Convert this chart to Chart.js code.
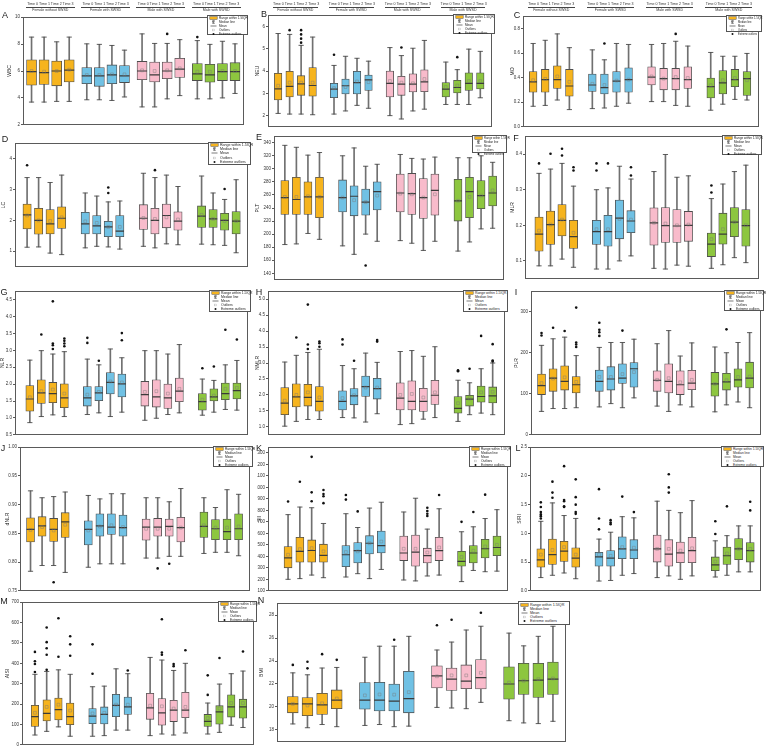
<!DOCTYPE html>
<html>
<head>
<meta charset="utf-8">
<title>Blood markers by group and time</title>
<script src="https://cdn.jsdelivr.net/npm/chart.js@4.4.0/dist/chart.umd.min.js"></script>
<style>
  body { margin: 0; width: 767px; height: 750px; background: #fff; position: relative; overflow: hidden;
         font-family: "Liberation Sans", Arial, sans-serif; color: #222; }
  canvas { position: absolute; }
  .letter { position: absolute; font-size: 9px; line-height: 9px; transform: translate(-50%, -50%); }
  .legend { position: absolute; box-sizing: border-box; border: 0.6px solid #555; background: #fff;
            display: flex; flex-direction: column; justify-content: space-around; padding: 0.4px 1px; }
  .legend div { display: flex; align-items: center; white-space: nowrap; }
  .legend svg { flex: none; margin-right: 1px; }
  .grp { position: absolute; text-align: center; white-space: nowrap; font-size: 3.6px; line-height: 3.9px; color: #333; }
</style>
</head>
<body>
<script>
const groupNames = ["Female without SWSD", "Female with SWSD", "Male with SWSD", "Male with SWSD"];
const timeLabels = ["Time 0", "Time 1", "Time 2", "Time 3"];
const legendLabels = ["Range within 1.5IQR", "Median line", "Mean", "Outliers", "Extreme outliers"];
const groupColors = ["#F6B41E", "#70C1E4", "#F8BBCB", "#8DC63F"];

// every box: [lower whisker, Q1, median, Q3, upper whisker, mean]
// every outlier: [box number 0-15, value]
const wbcBoxes = [
  [3.69, 4.95, 5.95, 6.83, 8.52, 6.0], [3.69, 5.0, 5.88, 6.83, 8.52, 5.95], [3.74, 4.9, 6.0, 6.74, 8.17, 6.0], [3.74, 5.19, 6.07, 6.83, 8.52, 6.1],
  [3.86, 5.05, 5.64, 6.26, 8.02, 5.7], [3.86, 4.86, 5.64, 6.26, 7.98, 5.7], [3.81, 5.05, 5.71, 6.45, 7.9, 5.75], [4.07, 5.14, 5.64, 6.4, 7.55, 5.75],
  [3.33, 5.36, 6.0, 6.71, 8.76, 6.05], [3.33, 5.19, 5.71, 6.67, 8.05, 6.0], [3.93, 5.43, 6.0, 6.67, 8.05, 6.05], [4.17, 5.52, 6.14, 6.95, 8.33, 6.2],
  [3.93, 5.29, 5.79, 6.55, 8.26, 5.95], [3.93, 5.17, 5.71, 6.5, 7.98, 5.95], [4.0, 5.29, 5.95, 6.55, 8.21, 6.0], [4.33, 5.29, 5.95, 6.62, 8.02, 6.0]
];
const wbcOutliers = [[10, 8.76], [12, 8.52]];
const wbcTicks = ["2", "4", "6", "8", "10"];

const neuBoxes = [
  [2.1, 2.7, 3.2, 3.9, 5.68, 3.34], [2.07, 2.84, 3.31, 3.99, 5.64, 3.48], [2.07, 2.91, 3.42, 3.79, 5.15, 3.48], [2.04, 2.87, 3.35, 4.15, 5.52, 3.48],
  [2.07, 2.8, 3.19, 3.45, 4.25, 3.23], [2.21, 2.97, 3.34, 3.64, 4.66, 3.28], [2.46, 2.97, 3.48, 3.99, 4.57, 3.53], [2.33, 3.13, 3.6, 3.82, 4.44, 3.5],
  [2.0, 2.84, 3.45, 4.0, 5.05, 3.55], [1.85, 2.91, 3.41, 3.76, 4.69, 3.48], [2.21, 3.06, 3.41, 3.87, 5.02, 3.45], [2.29, 3.07, 3.51, 4.05, 5.37, 3.64],
  [2.5, 2.84, 3.19, 3.48, 4.4, 3.28], [2.5, 3.02, 3.26, 3.58, 4.06, 3.35], [2.5, 3.13, 3.45, 3.92, 4.98, 3.55], [2.8, 3.2, 3.45, 3.92, 4.88, 3.55]
];
const neuOutliers = [[1, 5.83], [2, 5.83], [2, 5.64], [2, 5.45], [2, 5.27], [4, 4.73], [9, 5.05], [13, 4.62]];
const neuTicks = ["2", "3", "4", "5", "6"];

const moBoxes = [
  [0.167, 0.281, 0.366, 0.449, 0.678, 0.379], [0.174, 0.281, 0.384, 0.467, 0.704, 0.39], [0.218, 0.312, 0.384, 0.496, 0.756, 0.41], [0.14, 0.249, 0.332, 0.467, 0.644, 0.366],
  [0.148, 0.288, 0.34, 0.429, 0.626, 0.35], [0.153, 0.268, 0.319, 0.429, 0.545, 0.34], [0.167, 0.281, 0.371, 0.449, 0.678, 0.376], [0.192, 0.281, 0.384, 0.48, 0.67, 0.384],
  [0.205, 0.34, 0.405, 0.488, 0.67, 0.41], [0.205, 0.301, 0.392, 0.475, 0.678, 0.392], [0.174, 0.301, 0.392, 0.475, 0.696, 0.405], [0.167, 0.312, 0.384, 0.488, 0.657, 0.397],
  [0.135, 0.234, 0.327, 0.397, 0.605, 0.338], [0.184, 0.268, 0.358, 0.457, 0.574, 0.379], [0.223, 0.327, 0.384, 0.467, 0.574, 0.397], [0.218, 0.255, 0.392, 0.449, 0.597, 0.379]
];
const moOutliers = [[5, 0.678], [10, 0.756]];
const moTicks = ["0.0", "0.2", "0.4", "0.6", "0.8"];

const lcBoxes = [
  [1.13, 1.72, 2.18, 2.53, 3.39, 2.16], [1.14, 1.55, 2.0, 2.39, 3.39, 2.0], [0.94, 1.56, 1.89, 2.35, 3.23, 1.98], [0.89, 1.74, 2.07, 2.44, 3.47, 2.1],
  [1.11, 1.56, 1.89, 2.26, 2.89, 1.97], [1.16, 1.56, 1.82, 2.16, 2.79, 1.92], [1.14, 1.47, 1.79, 1.97, 2.6, 1.79], [1.07, 1.47, 1.65, 2.16, 2.63, 1.79],
  [1.16, 1.71, 2.07, 2.51, 3.53, 2.08], [1.11, 1.56, 2.0, 2.39, 3.39, 2.05], [1.24, 1.76, 2.16, 2.53, 3.47, 2.1], [1.21, 1.68, 1.98, 2.28, 3.1, 2.03],
  [1.23, 1.77, 2.14, 2.47, 3.44, 2.18], [1.21, 1.77, 2.05, 2.35, 2.89, 2.05], [1.19, 1.68, 2.0, 2.23, 2.68, 1.98], [0.95, 1.56, 1.98, 2.29, 3.32, 1.98]
];
const lcOutliers = [[0, 3.79], [6, 3.07], [6, 2.89], [9, 3.63], [14, 3.02]];
const lcTicks = ["1", "2", "3", "4"];

const pltBoxes = [
  [184, 230, 256, 282, 336, 257], [185, 230, 253, 287, 333, 257], [201, 230, 257, 280, 321, 258], [192, 225, 257, 287, 325, 257],
  [182, 234, 256, 283, 320, 256], [169, 228, 258, 274, 332, 252], [200, 229, 249, 269, 304, 249], [189, 237, 265, 280, 307, 259],
  [190, 234, 263, 292, 322, 262], [186, 230, 262, 293, 316, 261], [175, 224, 256, 285, 315, 256], [189, 229, 267, 292, 318, 261],
  [174, 220, 251, 284, 317, 251], [188, 225, 265, 287, 317, 257], [208, 239, 259, 282, 320, 259], [209, 243, 263, 289, 310, 267]
];
const pltOutliers = [[6, 152], [14, 326]];
const pltTicks = ["140", "160", "180", "200", "220", "240", "260", "280", "300", "320", "340"];

const mlrBoxes = [
  [0.086, 0.127, 0.175, 0.223, 0.346, 0.185], [0.086, 0.146, 0.202, 0.24, 0.358, 0.202], [0.105, 0.17, 0.214, 0.258, 0.374, 0.216], [0.082, 0.135, 0.168, 0.214, 0.31, 0.179],
  [0.077, 0.146, 0.182, 0.214, 0.3, 0.189], [0.077, 0.141, 0.182, 0.228, 0.305, 0.189], [0.1, 0.162, 0.22, 0.271, 0.366, 0.218], [0.114, 0.179, 0.212, 0.241, 0.33, 0.216],
  [0.079, 0.144, 0.207, 0.249, 0.351, 0.207], [0.077, 0.152, 0.199, 0.25, 0.399, 0.205], [0.088, 0.152, 0.198, 0.244, 0.335, 0.2], [0.085, 0.155, 0.2, 0.239, 0.339, 0.202],
  [0.079, 0.112, 0.147, 0.178, 0.275, 0.161], [0.089, 0.147, 0.175, 0.234, 0.316, 0.189], [0.109, 0.168, 0.209, 0.25, 0.351, 0.209], [0.095, 0.141, 0.199, 0.244, 0.369, 0.2]
];
const mlrOutliers = [[0, 0.374], [1, 0.401], [2, 0.415], [2, 0.396], [3, 0.363], [3, 0.354], [4, 0.374], [4, 0.354],
  [5, 0.374], [7, 0.363], [7, 0.34], [12, 0.312], [12, 0.292]];
const mlrTicks = ["0.1", "0.2", "0.3", "0.4"];

const nlrBoxes = [
  [0.86, 1.2, 1.56, 1.96, 2.71, 1.61], [1.04, 1.43, 1.74, 2.13, 2.99, 1.79], [1.09, 1.45, 1.72, 2.05, 2.89, 1.84], [1.04, 1.3, 1.59, 2.01, 2.96, 1.72],
  [1.1, 1.35, 1.59, 1.93, 2.74, 1.69], [1.15, 1.51, 1.74, 1.93, 2.57, 1.77], [1.04, 1.71, 2.05, 2.34, 3.04, 2.08], [1.17, 1.62, 2.01, 2.3, 2.78, 2.05],
  [0.93, 1.35, 1.69, 2.08, 2.99, 1.77], [0.99, 1.32, 1.62, 2.13, 2.99, 1.79], [1.1, 1.28, 1.59, 2.0, 2.89, 1.72], [1.15, 1.48, 1.79, 2.18, 3.17, 1.86],
  [1.08, 1.23, 1.48, 1.72, 2.15, 1.54], [1.17, 1.5, 1.62, 1.86, 2.11, 1.66], [1.25, 1.54, 1.72, 2.03, 2.57, 1.86], [1.23, 1.56, 1.81, 2.03, 2.7, 1.89]
];
const nlrOutliers = [[1, 3.47], [2, 4.45], [2, 3.2], [2, 3.15], [2, 3.04], [3, 3.35], [3, 3.28], [3, 3.2], [3, 3.12],
  [4, 3.37], [4, 3.22], [5, 2.69], [7, 3.51], [7, 3.3], [12, 2.47], [13, 2.52], [14, 3.61], [15, 3.32]];
const nlrTicks = ["0.5", "1.0", "1.5", "2.0", "2.5", "3.0", "3.5", "4.0", "4.5"];

const nmlrBoxes = [
  [1.02, 1.38, 1.74, 2.23, 3.03, 1.82], [1.17, 1.62, 1.94, 2.35, 3.24, 2.0], [1.23, 1.65, 1.92, 2.33, 3.33, 2.08], [1.23, 1.49, 1.8, 2.26, 3.43, 1.92],
  [1.29, 1.53, 1.8, 2.13, 2.92, 1.9], [1.28, 1.69, 1.97, 2.2, 2.82, 1.99], [1.15, 1.95, 2.26, 2.59, 3.31, 2.23], [1.41, 1.87, 2.2, 2.52, 3.02, 2.23],
  [1.07, 1.53, 1.9, 2.38, 3.36, 2.0], [1.1, 1.53, 1.8, 2.44, 3.39, 2.03], [1.24, 1.48, 1.8, 2.21, 3.21, 1.92], [1.29, 1.7, 1.99, 2.46, 3.51, 2.08],
  [1.17, 1.43, 1.58, 1.95, 2.46, 1.74], [1.38, 1.65, 1.87, 1.99, 2.38, 1.89], [1.43, 1.77, 1.95, 2.28, 2.82, 2.08], [1.38, 1.75, 1.97, 2.25, 3.0, 2.1]
];
const nmlrOutliers = [[1, 3.8], [2, 4.83], [2, 3.58], [2, 3.44], [3, 3.67], [3, 3.62], [3, 3.51], [4, 3.74], [4, 3.58],
  [5, 3.07], [7, 3.72], [7, 3.67], [12, 2.77], [12, 2.74], [13, 2.82], [14, 3.85], [15, 3.59], [15, 3.08], [15, 3.05]];
const nmlrTicks = ["1.0", "1.5", "2.0", "2.5", "3.0", "3.5", "4.0", "4.5", "5.0"];

const plrBoxes = [
  [57, 98, 120, 148, 218, 126], [64, 106, 138, 161, 234, 137], [64, 109, 130, 168, 238, 140], [66, 102, 122, 142, 193, 129],
  [68, 106, 130, 158, 213, 141], [76, 109, 136, 166, 225, 141], [66, 125, 138, 173, 225, 148], [90, 116, 161, 176, 233, 153],
  [70, 106, 133, 156, 222, 134], [57, 102, 130, 173, 254, 138], [73, 98, 122, 156, 192, 128], [68, 110, 126, 157, 224, 134],
  [56, 94, 124, 152, 214, 124], [73, 109, 129, 150, 200, 133], [80, 116, 134, 161, 225, 141], [66, 114, 138, 177, 249, 142]
];
const plrOutliers = [[0, 248], [0, 242], [1, 261], [2, 253], [3, 310], [3, 225], [3, 220], [3, 214],
  [4, 273], [4, 256], [4, 250], [4, 241], [6, 254], [13, 257]];
const plrTicks = ["0", "100", "200", "300"];

const dnlrBoxes = [
  [0.784, 0.835, 0.857, 0.877, 0.924, 0.856], [0.794, 0.845, 0.863, 0.879, 0.912, 0.861], [0.794, 0.836, 0.857, 0.876, 0.914, 0.855], [0.782, 0.843, 0.87, 0.886, 0.922, 0.865],
  [0.791, 0.83, 0.857, 0.872, 0.916, 0.855], [0.797, 0.845, 0.863, 0.884, 0.91, 0.862], [0.797, 0.848, 0.861, 0.884, 0.919, 0.864], [0.797, 0.845, 0.86, 0.882, 0.919, 0.861],
  [0.807, 0.838, 0.861, 0.875, 0.912, 0.858], [0.807, 0.845, 0.861, 0.876, 0.912, 0.858], [0.81, 0.845, 0.862, 0.875, 0.905, 0.858], [0.81, 0.835, 0.86, 0.878, 0.928, 0.86],
  [0.815, 0.843, 0.862, 0.887, 0.912, 0.864], [0.817, 0.839, 0.858, 0.874, 0.895, 0.86], [0.817, 0.839, 0.853, 0.875, 0.926, 0.86], [0.811, 0.839, 0.858, 0.884, 0.918, 0.862]
];
const dnlrOutliers = [[2, 0.765], [9, 0.789], [10, 0.797]];
const dnlrTicks = ["0.75", "0.80", "0.85", "0.90", "0.95", "1.00"];

const siiBoxes = [
  [200, 300, 386, 486, 763, 414], [206, 349, 443, 566, 829, 463], [237, 349, 451, 543, 823, 471], [214, 349, 409, 506, 686, 443],
  [220, 309, 414, 494, 771, 437], [249, 343, 449, 520, 651, 443], [206, 420, 514, 580, 820, 514], [286, 429, 494, 620, 871, 529],
  [194, 363, 429, 577, 786, 466], [186, 314, 437, 586, 906, 466], [229, 343, 406, 471, 637, 434], [237, 363, 449, 566, 814, 477],
  [180, 314, 357, 443, 614, 394], [277, 343, 429, 494, 657, 449], [266, 386, 466, 549, 729, 486], [271, 406, 477, 577, 806, 500]
];
const siiOutliers = [[0, 877], [1, 1049], [2, 1266], [2, 957], [2, 880], [3, 977], [3, 943], [3, 923], [3, 863],
  [4, 934], [4, 894], [5, 791], [10, 823], [10, 794], [10, 771], [10, 751], [11, 934], [12, 700], [13, 786], [14, 937]];
const siiTicks = ["100", "200", "300", "400", "500", "600", "700", "800", "900", "1000", "1100", "1200", "1300"];

const siriBoxes = [
  [0.23, 0.41, 0.54, 0.73, 1.21, 0.63], [0.27, 0.46, 0.63, 0.9, 1.53, 0.71], [0.31, 0.51, 0.69, 0.86, 1.31, 0.76], [0.21, 0.41, 0.57, 0.75, 1.26, 0.63],
  [0.17, 0.43, 0.59, 0.67, 0.9, 0.63], [0.18, 0.43, 0.57, 0.7, 1.02, 0.61], [0.27, 0.56, 0.73, 0.94, 1.29, 0.76], [0.3, 0.56, 0.71, 0.89, 1.27, 0.75],
  [0.23, 0.5, 0.73, 0.97, 1.56, 0.73], [0.26, 0.43, 0.64, 0.89, 1.4, 0.73], [0.2, 0.49, 0.66, 0.85, 1.36, 0.7], [0.26, 0.49, 0.7, 0.93, 1.57, 0.74],
  [0.24, 0.35, 0.45, 0.59, 0.87, 0.51], [0.27, 0.46, 0.61, 0.76, 0.96, 0.65], [0.33, 0.54, 0.73, 0.91, 1.13, 0.73], [0.33, 0.5, 0.7, 0.84, 1.13, 0.73]
];
const siriOutliers = [[0, 1.54], [0, 1.46], [0, 1.37], [0, 1.33], [0, 1.3], [0, 1.26], [1, 1.9], [1, 1.71], [1, 1.62],
  [2, 2.17], [2, 1.58], [2, 1.56], [2, 1.47], [2, 1.46], [3, 1.94], [3, 1.63], [3, 1.5], [3, 1.37], [3, 1.34],
  [4, 1.77], [4, 1.26], [4, 1.07], [5, 1.23], [5, 1.19], [5, 1.16], [6, 1.64], [7, 1.37], [9, 2.03], [9, 1.8], [9, 1.71],
  [12, 1.21], [12, 0.99], [13, 1.47], [15, 1.55], [15, 1.4]];
const siriTicks = ["0.0", "0.5", "1.0", "1.5", "2.0", "2.5"];

const aisiBoxes = [
  [48, 90, 138, 194, 346, 157], [66, 117, 154, 221, 360, 186], [88, 122, 173, 229, 368, 197], [42, 99, 138, 205, 346, 168],
  [42, 104, 141, 178, 285, 154], [45, 102, 149, 186, 288, 157], [72, 138, 194, 248, 373, 197], [72, 149, 186, 234, 349, 197],
  [45, 125, 181, 253, 429, 192], [53, 96, 157, 227, 416, 189], [48, 114, 170, 218, 365, 178], [58, 133, 170, 258, 400, 186],
  [53, 90, 115, 149, 205, 131], [61, 101, 162, 192, 298, 178], [96, 136, 186, 245, 349, 205], [85, 131, 186, 224, 362, 205]
];
const aisiOutliers = [[0, 456], [0, 410], [0, 397], [0, 357], [1, 576], [1, 504], [1, 474], [1, 442], [1, 368],
  [2, 621], [2, 432], [3, 533], [3, 493], [3, 437], [4, 493], [4, 349], [7, 365], [9, 616], [9, 453], [9, 442],
  [10, 397], [10, 386], [11, 464], [12, 341], [12, 245], [13, 426], [15, 458]];
const aisiTicks = ["0", "100", "200", "300", "400", "500", "600", "700"];

const bmiBoxes = [
  [18.52, 19.49, 20.27, 20.9, 22.97, 20.27], [18.19, 19.24, 20.27, 20.82, 22.8, 20.13], [18.47, 19.35, 20.18, 21.18, 23.39, 20.32], [18.28, 19.85, 20.6, 21.48, 23.44, 20.73],
  [18.39, 19.8, 20.6, 22.12, 24.33, 21.01], [18.47, 19.66, 20.6, 22.14, 25.29, 21.09], [18.28, 19.66, 20.51, 22.0, 25.29, 21.07], [18.33, 19.49, 20.73, 23.11, 26.15, 21.29],
  [19.96, 21.65, 22.7, 23.58, 24.96, 22.67], [19.91, 21.43, 22.42, 23.39, 25.65, 22.75], [19.85, 21.59, 22.25, 23.66, 26.7, 22.75], [20.4, 21.56, 22.56, 24.13, 27.03, 22.97],
  [18.8, 20.68, 22.0, 23.5, 26.43, 22.12], [18.61, 21.09, 22.28, 23.8, 25.32, 22.28], [18.55, 20.82, 22.34, 23.8, 26.15, 22.42], [18.75, 21.09, 22.42, 23.91, 27.03, 22.48]
];
const bmiOutliers = [[0, 23.66], [1, 23.94], [1, 23.36], [2, 24.6], [3, 24.1], [6, 25.85], [8, 27.12], [9, 27.59], [11, 28.2]];
const bmiTicks = ["18", "20", "22", "24", "26", "28"];

// page layout of the 14 panels: frame = plot rectangle [left, top, right, bottom] in px
const panels = [
  { letter: "A", title: "WBC", boxes: wbcBoxes, outliers: wbcOutliers, ticks: wbcTicks, min: 2, max: 10,
    frame: [23, 15, 248, 127], axisW: 16, step: 4.4, pad: [0.68, 0.7], boxW: 10, legend: [41, 20], mark: [5, 15], header: true },
  { letter: "B", title: "NEU", boxes: neuBoxes, outliers: neuOutliers, ticks: neuTicks, min: 1.5, max: 6.5,
    frame: [268, 14, 495, 128], axisW: 13, step: 4.86, pad: [0.88, 1.0], boxW: 7.5, legend: [42, 20], mark: [264, 14], header: true },
  { letter: "C", title: "MO", boxes: moBoxes, outliers: moOutliers, ticks: moTicks, min: 0, max: 0.9,
    frame: [523, 15, 762, 128], axisW: 13, step: 4.9, pad: [0.84, 0.98], boxW: 7.7, legend: [36, 17], mark: [517, 15], header: true },
  { letter: "D", title: "LC", boxes: lcBoxes, outliers: lcOutliers, ticks: lcTicks, min: 0.5, max: 4.5,
    frame: [15, 142, 251, 268], axisW: 14, step: 5.05, pad: [1.05, 1.0], boxW: 8.3, legend: [43, 23], mark: [5, 139] },
  { letter: "E", title: "PLT", boxes: pltBoxes, outliers: pltOutliers, ticks: pltTicks, min: 130, max: 350,
    frame: [274, 135, 507, 281], axisW: 19, step: 5, pad: [0.94, 0.97], boxW: 8, legend: [35, 18], mark: [259, 137] },
  { letter: "F", title: "MLR", boxes: mlrBoxes, outliers: mlrOutliers, ticks: mlrTicks, min: 0.05, max: 0.45,
    frame: [525, 135, 762, 280], axisW: 15, step: 5, pad: [1.22, 1.11], boxW: 8.3, legend: [40, 20], mark: [516, 138] },
  { letter: "G", title: "NLR", boxes: nlrBoxes, outliers: nlrOutliers, ticks: nlrTicks, min: 0.5, max: 4.75,
    frame: [15, 290, 251, 436], axisW: 15, step: 5, pad: [1.29, 0.95], boxW: 8, legend: [42, 22], mark: [4, 292] },
  { letter: "H", title: "NMLR", boxes: nmlrBoxes, outliers: nmlrOutliers, ticks: nmlrTicks, min: 0.75, max: 5.25,
    frame: [268, 290, 508, 436], axisW: 13, step: 5, pad: [1.45, 1.05], boxW: 8, legend: [45, 22], mark: [259, 292] },
  { letter: "I", title: "PLR", boxes: plrBoxes, outliers: plrOutliers, ticks: plrTicks, min: 0, max: 350,
    frame: [531, 290, 764, 436], axisW: 17, step: 5, pad: [0.91, 0.97], boxW: 8, legend: [40, 21], mark: [516, 292] },
  { letter: "J", title: "dNLR", boxes: dnlrBoxes, outliers: dnlrOutliers, ticks: dnlrTicks, min: 0.75, max: 1.0,
    frame: [20, 446, 253, 592], axisW: 15, step: 5, pad: [0.91, 0.97], boxW: 8, legend: [40, 21], mark: [3, 448] },
  { letter: "K", title: "SII", boxes: siiBoxes, outliers: siiOutliers, ticks: siiTicks, min: 100, max: 1350,
    frame: [268, 446, 511, 592], axisW: 11, step: 4.9, pad: [1.7, 0.92], boxW: 8, legend: [42, 21], mark: [259, 448] },
  { letter: "L", title: "SIRI", boxes: siriBoxes, outliers: siriOutliers, ticks: siriTicks, min: 0, max: 2.5,
    frame: [530, 446, 764, 592], axisW: 13, step: 5, pad: [0.93, 0.91], boxW: 8, legend: [43, 21], mark: [518, 448] },
  { letter: "M", title: "AISI", boxes: aisiBoxes, outliers: aisiOutliers, ticks: aisiTicks, min: 0, max: 700,
    frame: [22, 601, 257, 746], axisW: 17, step: 4.9, pad: [1.1, 0.92], boxW: 7.5, legend: [39, 21], mark: [4, 601] },
  { letter: "N", title: "BMI", boxes: bmiBoxes, outliers: bmiOutliers, ticks: bmiTicks, min: 17, max: 29,
    frame: [277, 601, 570, 744], axisW: 18, step: 4.92, pad: [1.08, 0.85], boxW: 10.8, legend: [52, 24], mark: [261, 600] }
];

const frameColor = "#5a5a5a";

//an axis that only draws one side of the frame
const frameAxis = (position, horizontal) => ({
  type: "linear", position: position, display: true, min: 0, max: 1,
  ticks: { display: false }, grid: { display: false },
  border: { display: true, color: frameColor, width: 1 },
  afterFit: (axis) => { if (horizontal) axis.height = 0; else axis.width = 0; }
});

const legendIcons = [
  '<svg width="9" height="4"><rect x="0.8" y="0.6" width="7.4" height="2.8" fill="#F6B41E" stroke="#555" stroke-width="0.5"/></svg>',
  '<svg width="9" height="4"><path d="M4.5 0.3V3.7M3 0.3H6M3 3.7H6" stroke="#444" stroke-width="0.5" fill="none"/><rect x="3.7" y="1.3" width="1.6" height="1.4" fill="none" stroke="#444" stroke-width="0.4"/></svg>',
  '<svg width="9" height="4"><path d="M1.5 2H7.5" stroke="#444" stroke-width="0.7"/></svg>',
  '<svg width="9" height="4"><rect x="3.6" y="1.1" width="1.8" height="1.8" fill="none" stroke="#aaa" stroke-width="0.4"/></svg>',
  '<svg width="9" height="4"><circle cx="4.5" cy="2" r="1" fill="#111"/></svg>'
];

const addLegend = (p) => {
  const [w, h] = p.legend;
  const box = document.createElement("div");
  box.className = "legend";
  box.style.left = (p.frame[2] - w) + "px";
  box.style.top = p.frame[1] + "px";
  box.style.width = w + "px";
  box.style.height = h + "px";
  box.style.fontSize = (h / 5 * 0.78).toFixed(2) + "px";
  legendLabels.forEach((text, k) => {
    const row = document.createElement("div");
    row.innerHTML = legendIcons[k] + "<span>" + text + "</span>";
    box.appendChild(row);
  });
  document.body.appendChild(box);
};

const addLetter = (p) => {
  const el = document.createElement("div");
  el.className = "letter";
  el.textContent = p.letter;
  el.style.left = p.mark[0] + "px";
  el.style.top = p.mark[1] + "px";
  document.body.appendChild(el);
};

const drawPanel = (p) => {
  const [L, T, R, B] = p.frame;
  const canvas = document.createElement("canvas");
  const canvasLeft = L - p.axisW;
  canvas.width = p.axisW + (R - L) + 2;
  canvas.height = (B - T) + 8;
  canvas.style.left = canvasLeft + "px";
  canvas.style.top = (T - 4) + "px";
  document.body.appendChild(canvas);

  //box i sits in group floor(i/4), time slot i%4
  const xOf = (i) => Math.floor(i / 4) * p.step + (i % 4);
  const fills = p.boxes.map((b, i) => groupColors[Math.floor(i / 4)]);

  const chart = new Chart(canvas, {
    type: "bar",
    data: {
      datasets: [
        { label: "whisker", data: p.boxes.map((b, i) => ({ x: xOf(i), y: [b[0], b[4]] })),
          backgroundColor: "#707070", borderWidth: 0, barThickness: 1, grouped: false, order: 6 },
        { label: "box", data: p.boxes.map((b, i) => ({ x: xOf(i), y: [b[1], b[3]] })),
          backgroundColor: fills, borderColor: "#4d4d4d", borderWidth: 0.8, borderSkipped: false,
          barThickness: p.boxW, grouped: false, order: 5 },
        { type: "scatter", label: "caps",
          data: p.boxes.flatMap((b, i) => [{ x: xOf(i), y: b[0] }, { x: xOf(i), y: b[4] }]),
          pointStyle: "line", pointRadius: 2.6, pointBorderColor: "#4d4d4d", pointBorderWidth: 0.9, order: 4 },
        { type: "scatter", label: "median", data: p.boxes.map((b, i) => ({ x: xOf(i), y: b[2] })),
          pointStyle: "line", pointRadius: p.boxW / 2, pointBorderColor: "#3a3a3a", pointBorderWidth: 1.2, order: 3 },
        { type: "scatter", label: "mean", data: p.boxes.map((b, i) => ({ x: xOf(i), y: b[5] })),
          pointStyle: "rect", pointRadius: 2, pointBackgroundColor: "rgba(0,0,0,0)",
          pointBorderColor: "rgba(120,120,120,0.7)", pointBorderWidth: 0.6, order: 2 },
        { type: "scatter", label: "outliers", data: p.outliers.map(([i, v]) => ({ x: xOf(i), y: v })),
          pointStyle: "circle", pointRadius: 1.3, pointBackgroundColor: "#111", pointBorderWidth: 0, order: 1, clip: false }
      ]
    },
    options: {
      responsive: false,
      animation: false,
      events: [],
      layout: { padding: { top: 4, bottom: 4, left: 0, right: 2 } },
      plugins: { legend: { display: false }, tooltip: { enabled: false } },
      scales: {
        x: Object.assign(frameAxis("bottom", true), { min: -p.pad[0], max: 3 * p.step + 3 + p.pad[1], offset: false }),
        xTop: frameAxis("top", true),
        y: {
          type: "linear", position: "left", min: p.min, max: p.max,
          afterBuildTicks: (axis) => { axis.ticks = p.ticks.map((t) => ({ value: Number(t) })); },
          ticks: { autoSkip: false, callback: (v, idx) => p.ticks[idx], color: "#333", padding: 1,
                   font: { size: 4.5, family: "Liberation Sans" } },
          grid: { drawOnChartArea: false, drawTicks: true, tickLength: 2, color: frameColor },
          border: { display: true, color: frameColor, width: 1 },
          title: { display: true, text: p.title, color: "#222", padding: 0, font: { size: 5, family: "Liberation Sans" } },
          afterFit: (axis) => { axis.width = p.axisW; }
        },
        yRight: frameAxis("right", false)
      }
    }
  });

  //group and time headings on the top row
  if (p.header) {
    const xs = chart.scales.x;
    groupNames.forEach((name, g) => {
      const a = canvasLeft + xs.getPixelForValue(g * p.step - 0.45);
      const b = canvasLeft + xs.getPixelForValue(g * p.step + 3.45);
      const head = document.createElement("div");
      head.className = "grp";
      head.style.left = a + "px";
      head.style.top = "2.8px";
      head.style.width = (b - a) + "px";
      head.innerHTML = '<div style="border-bottom:0.6px solid #444;padding-bottom:0.3px">' + timeLabels.join(" ") +
        '</div><div style="padding-top:0.6px">' + name + "</div>";
      document.body.appendChild(head);
    });
  }

  addLegend(p);
  addLetter(p);
};

panels.forEach(drawPanel);
</script>
</body>
</html>
